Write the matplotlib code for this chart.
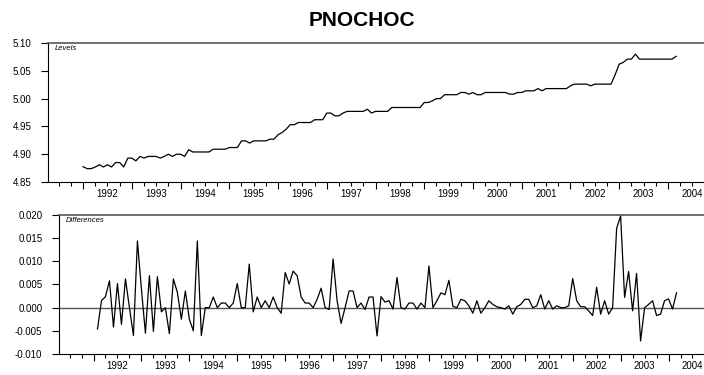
import numpy as np
import matplotlib
matplotlib.use("Agg")
import matplotlib.pyplot as plt
from matplotlib.ticker import FormatStrFormatter

plt.rcParams["font.family"] = ["Liberation Sans", "DejaVu Sans"]
plt.rcParams["axes.unicode_minus"] = False

# monthly data, 1992:01 .. 2004:03
start_year = 1992
levels = [
    4.8776, 4.874, 4.874, 4.877, 4.881, 4.877, 4.881, 4.877, 4.885, 4.885, 4.877, 4.893,
    4.893, 4.888, 4.896, 4.893, 4.896, 4.896, 4.896, 4.893, 4.896, 4.900, 4.896, 4.900,
    4.900, 4.896, 4.908, 4.904, 4.904, 4.904, 4.904, 4.904, 4.909, 4.909, 4.909, 4.909,
    4.912, 4.912, 4.912, 4.924, 4.924, 4.920, 4.924, 4.924, 4.924, 4.924, 4.927, 4.927,
    4.935, 4.939, 4.945, 4.953, 4.953, 4.957, 4.957, 4.957, 4.957, 4.962, 4.962, 4.962,
    4.974, 4.974, 4.969, 4.969, 4.974, 4.977, 4.977, 4.977, 4.977, 4.977, 4.981, 4.974,
    4.977, 4.977, 4.977, 4.977, 4.984, 4.984, 4.984, 4.984, 4.984, 4.984, 4.984, 4.984,
    4.993, 4.993, 4.996, 5.000, 5.000, 5.007, 5.007, 5.007, 5.007, 5.011, 5.011, 5.008,
    5.011, 5.007, 5.007, 5.011, 5.011, 5.011, 5.011, 5.011, 5.011, 5.008, 5.008, 5.011,
    5.011, 5.014, 5.014, 5.014, 5.018, 5.014, 5.018, 5.018, 5.018, 5.018, 5.018, 5.018,
    5.023, 5.026, 5.026, 5.026, 5.026, 5.023, 5.026, 5.026, 5.026, 5.026, 5.026, 5.043,
    5.062, 5.065, 5.071, 5.071, 5.080, 5.071, 5.071, 5.071, 5.071, 5.071, 5.071, 5.071,
    5.071, 5.071, 5.076,
]
# first differences, 1992:02 .. 2004:03
diffs = [
    -0.0046, 0.0015, 0.0024, 0.0058, -0.0042, 0.0052, -0.0036, 0.0062, 0.0000, -0.0060, 0.0144,
    0.0040, -0.0055, 0.0069, -0.0051, 0.0067, -0.0009, 0.0000, -0.0056, 0.0062, 0.0033, -0.0025, 0.0036,
    -0.0025, -0.0050, 0.0144, -0.0060, 0.0000, 0.0000, 0.0023, 0.0000, 0.0010, 0.0010, 0.0000, 0.0010,
    0.0052, 0.0000, 0.0000, 0.0094, -0.0009, 0.0023, 0.0000, 0.0015, 0.0000, 0.0023, 0.0000, -0.0012,
    0.0076, 0.0051, 0.0079, 0.0069, 0.0023, 0.0010, 0.0010, 0.0000, 0.0018, 0.0042, 0.0000, -0.0004,
    0.0105, 0.0015, -0.0034, 0.0000, 0.0036, 0.0036, 0.0000, 0.0010, -0.0004, 0.0023, 0.0023, -0.0061,
    0.0024, 0.0012, 0.0015, -0.0003, 0.0065, 0.0000, -0.0003, 0.0010, 0.0010, -0.0003, 0.0010, 0.0000,
    0.0090, 0.0000, 0.0015, 0.0032, 0.0028, 0.0059, 0.0003, 0.0000, 0.0018, 0.0015, 0.0004, -0.0012,
    0.0015, -0.0012, 0.0000, 0.0015, 0.0007, 0.0002, 0.0000, -0.0003, 0.0004, -0.0014, 0.0002, 0.0007,
    0.0018, 0.0018, 0.0000, 0.0004, 0.0028, -0.0003, 0.0015, -0.0003, 0.0004, 0.0000, 0.0000, 0.0004,
    0.0063, 0.0015, 0.0002, 0.0002, -0.0007, -0.0017, 0.0044, -0.0014, 0.0015, -0.0014, 0.0000, 0.0171,
    0.0198, 0.0022, 0.0078, -0.0007, 0.0074, -0.0072, 0.0000, 0.0007, 0.0015, -0.0017, -0.0014, 0.0015,
    0.0019, -0.0003, 0.0032,
]
year_labels = [str(y) for y in range(1992, 2005)]

t_lev = start_year + np.arange(len(levels)) / 12.0
t_dif = start_year + (np.arange(len(diffs)) + 1) / 12.0

W, H = 704, 375
fig = plt.figure(figsize=(W / 100, H / 100), dpi=100)
fig.text(362 / W, 1 - 20 / H, "PNOCHOC", ha="center", va="center",
         fontsize=15, fontweight="bold")

ax1 = fig.add_axes([48 / W, 1 - 182 / H, (W - 48) / W, 139 / H])
ax2 = fig.add_axes([59 / W, 1 - 354 / H, (W - 59) / W, 139 / H])


def style(ax, ylim, yticks, fmt, tag):
    ax.set_xlim(1991.28, 2004.74)
    ax.set_ylim(*ylim)
    ax.set_yticks(yticks)
    ax.yaxis.set_major_formatter(FormatStrFormatter(fmt))
    years = np.arange(1992, 2005)
    quarters = [y + q / 4 for y in range(1991, 2005) for q in (1, 2, 3)]
    quarters = [q for q in quarters if 1991.28 < q < 2004.74]
    ax.set_xticks(years)
    ax.set_xticklabels([])
    ax.set_xticks(quarters, minor=True)
    ax.tick_params(axis="x", which="major", direction="out", length=5, width=0.8)
    ax.tick_params(axis="x", which="minor", direction="out", length=3, width=0.8)
    ax.tick_params(axis="y", direction="out", length=5, width=0.8, pad=7, labelsize=7)
    # year labels centred between the year ticks
    sec = ax.secondary_xaxis("bottom")
    sec.set_xticks(years + 0.5, year_labels)
    sec.tick_params(length=0, pad=5, labelsize=7)
    sec.spines["bottom"].set_visible(False)
    for s in ("left", "bottom"):
        ax.spines[s].set_color("black")
        ax.spines[s].set_linewidth(0.8)
    ax.spines["right"].set_visible(False)
    ax.spines["top"].set_color("#555555")
    ax.spines["top"].set_linewidth(1.2)
    ax.text(0.011, 0.985, tag, transform=ax.transAxes, ha="left", va="top",
            fontsize=5.5, style="italic")


style(ax1, (4.85, 5.10), np.arange(4.85, 5.101, 0.05), "%.2f", "Levels")
ax1.plot(t_lev, levels, color="black", lw=0.9)

style(ax2, (-0.010, 0.020), np.arange(-0.010, 0.0201, 0.005), "%.3f", "Differences")
ax2.axhline(0, color="#555555", lw=1.0)
ax2.plot(t_dif, diffs, color="black", lw=0.9)

fig.savefig("out.png", dpi=100)
